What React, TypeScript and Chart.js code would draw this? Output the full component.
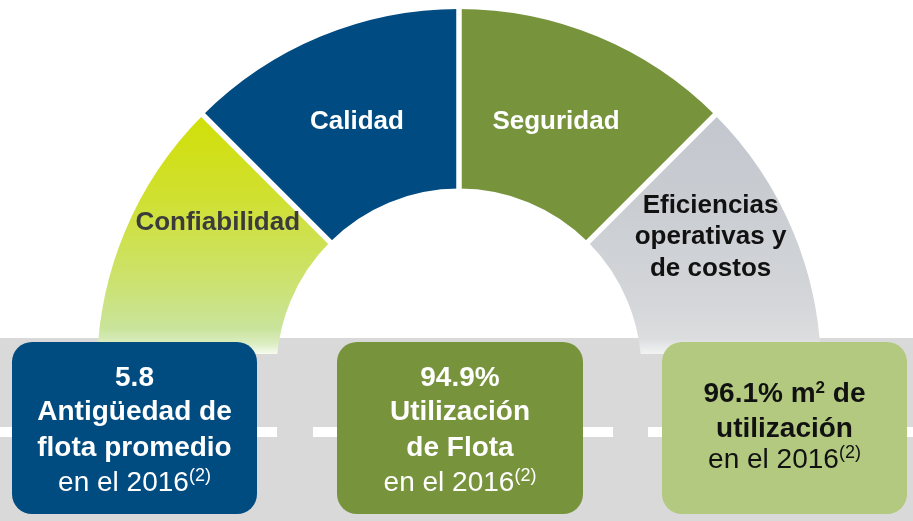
import React, { useEffect, useRef } from "react";
import { Chart, registerables } from "chart.js";

Chart.register(...registerables);

// ---- data ----
const categories = ["Confiabilidad", "Calidad", "Seguridad", "Eficiencias operativas y de costos"];
const weights = [1, 1, 1, 1];
const labelLines = [["Confiabilidad"], ["Calidad"], ["Seguridad"], ["Eficiencias", "operativas y", "de costos"]];

const kpiHeadlines = ["5.8", "94.9%", "96.1% m"];
const kpiBodies = [["Antigüedad de", "flota promedio"], ["Utilización", "de Flota"], ["utilización"]];
const kpiYear = "en el 2016";
const kpiNote = "(2)";

// ---- styles / layout ----
const FONT = '"Liberation Sans", Arial, Helvetica, sans-serif';
const segmentFills: (string | [number, string][])[] = [
  [
    [0, "#d1df00"],
    [0.37, "#d0e02e"],
    [0.7, "#cce26c"],
    [0.9, "#c9e49b"],
    [0.96, "#dcedc2"],
    [1, "#f6fbef"],
  ],
  "#004b81",
  "#77943d",
  [
    [0, "#c2c6cd"],
    [0.39, "#c9cdd2"],
    [0.8, "#d4d6d9"],
    [0.94, "#dcdddf"],
    [1, "#f3f3f3"],
  ],
];
const labelColors = ["#3b3b3b", "#ffffff", "#ffffff", "#111111"];
const labelAngles = [148.1, 112.1, 68.9, 28.4];
const labelRadii = [0.785, 0.749, 0.744, 0.79];
const CLIP_Y = 354;
const GRAD_TOP = 100;
const GAP = 5.5;

const ringPlugin = {
  id: "ringPlugin",
  beforeDatasetsDraw(chart: any) {
    const ctx = chart.ctx;
    ctx.save();
    ctx.beginPath();
    ctx.rect(0, 0, chart.width, CLIP_Y);
    ctx.clip();
  },
  afterDatasetsDraw(chart: any) {
    const ctx = chart.ctx;
    const meta = chart.getDatasetMeta(0);
    // white gaps between the segments
    ctx.strokeStyle = "#ffffff";
    ctx.lineWidth = GAP;
    ctx.lineCap = "butt";
    meta.data.forEach((arc: any, i: number) => {
      if (i === 0) return;
      const { x, y, startAngle, innerRadius, outerRadius } = arc.getProps(
        ["x", "y", "startAngle", "innerRadius", "outerRadius"],
        true
      );
      ctx.beginPath();
      ctx.moveTo(x + Math.cos(startAngle) * (innerRadius - 3), y + Math.sin(startAngle) * (innerRadius - 3));
      ctx.lineTo(x + Math.cos(startAngle) * (outerRadius + 3), y + Math.sin(startAngle) * (outerRadius + 3));
      ctx.stroke();
    });
    ctx.restore();

    ctx.save();
    ctx.font = `bold 26px ${FONT}`;
    ctx.textAlign = "center";
    ctx.textBaseline = "alphabetic";
    meta.data.forEach((arc: any, i: number) => {
      const { x, y, outerRadius } = arc.getProps(["x", "y", "outerRadius"], true);
      const a = (labelAngles[i] * Math.PI) / 180;
      const r = labelRadii[i] * outerRadius;
      const cx = x + r * Math.cos(a);
      const cy = y - r * Math.sin(a);
      const lines = labelLines[i];
      ctx.fillStyle = labelColors[i];
      lines.forEach((ln, k) => {
        ctx.fillText(ln, cx, cy + (k - (lines.length - 1) / 2) * 31.5 + 9.3);
      });
    });
    ctx.restore();
  },
};

const boxes = [
  { left: 12, width: 245, bg: "#004b80", color: "#ffffff" },
  { left: 337, width: 246, bg: "#77933c", color: "#ffffff" },
  { left: 662, width: 245, bg: "#b2c97f", color: "#111111" },
];

function Line({ top, bold, children }: { top: number; bold?: boolean; children: any }) {
  return (
    <div
      style={{
        position: "absolute",
        left: 0,
        right: 0,
        top,
        textAlign: "center",
        fontSize: 28,
        lineHeight: "28px",
        fontWeight: bold ? 700 : 400,
        whiteSpace: "nowrap",
      }}
    >
      {children}
    </div>
  );
}

function Sup({ children, size = 18, lift = -10 }: { children: any; size?: number; lift?: number }) {
  return (
    <span style={{ fontSize: size, position: "relative", top: lift, lineHeight: 0 }}>{children}</span>
  );
}

export default function App() {
  const canvasRef = useRef<HTMLCanvasElement | null>(null);

  useEffect(() => {
    const canvas = canvasRef.current;
    if (!canvas) return;
    const chart = new Chart(canvas, {
      type: "doughnut",
      data: {
        labels: categories,
        datasets: [
          {
            data: weights,
            backgroundColor: (c: any) => {
              const fill = segmentFills[c.dataIndex];
              if (typeof fill === "string") return fill;
              const g = c.chart.ctx.createLinearGradient(0, GRAD_TOP, 0, CLIP_Y);
              fill.forEach(([o, col]) => g.addColorStop(o, col));
              return g;
            },
            borderWidth: 0,
          } as any,
        ],
      },
      options: {
        responsive: false,
        animation: false,
        events: [],
        rotation: -90,
        circumference: 180,
        cutout: "50.4%",
        layout: { padding: { left: 97, right: 92, top: 9, bottom: 150 } },
        plugins: { legend: { display: false }, tooltip: { enabled: false } },
      } as any,
      plugins: [ringPlugin],
    });
    return () => chart.destroy();
  }, []);

  return (
    <div
      style={{
        position: "absolute",
        left: 0,
        top: 0,
        width: 913,
        height: 521,
        overflow: "hidden",
        background: "#ffffff",
        fontFamily: FONT,
      }}
    >
      {/* road band */}
      <div style={{ position: "absolute", left: 0, top: 338, width: 913, height: 183, background: "#d9d9d9" }} />
      <div style={{ position: "absolute", left: 0, top: 427, width: 277, height: 10, background: "#ffffff" }} />
      <div style={{ position: "absolute", left: 313, top: 427, width: 300, height: 10, background: "#ffffff" }} />
      <div style={{ position: "absolute", left: 648, top: 427, width: 265, height: 10, background: "#ffffff" }} />

      <canvas
        ref={canvasRef}
        width={913}
        height={521}
        style={{ position: "absolute", left: 0, top: 0, width: 913, height: 521 }}
      />

      {boxes.map((b, i) => (
        <div
          key={i}
          style={{
            position: "absolute",
            left: b.left,
            top: 342,
            width: b.width,
            height: 172,
            borderRadius: 20,
            background: b.bg,
            color: b.color,
          }}
        >
          {i < 2 ? (
            <>
              <Line top={387 - 24 - 342} bold>
                {kpiHeadlines[i]}
              </Line>
              <Line top={421 - 24 - 342} bold>
                {kpiBodies[i][0]}
              </Line>
              <Line top={457 - 24 - 342} bold>
                {kpiBodies[i][1]}
              </Line>
              <Line top={492 - 24 - 342}>
                {kpiYear}
                <Sup>{kpiNote}</Sup>
              </Line>
            </>
          ) : (
            <>
              <Line top={403 - 24 - 342} bold>
                {kpiHeadlines[i]}
                <Sup size={17} lift={-9}>2</Sup> de
              </Line>
              <Line top={438 - 24 - 342} bold>
                {kpiBodies[i][0]}
              </Line>
              <Line top={469 - 24 - 342}>
                {kpiYear}
                <Sup>{kpiNote}</Sup>
              </Line>
            </>
          )}
        </div>
      ))}
    </div>
  );
}
